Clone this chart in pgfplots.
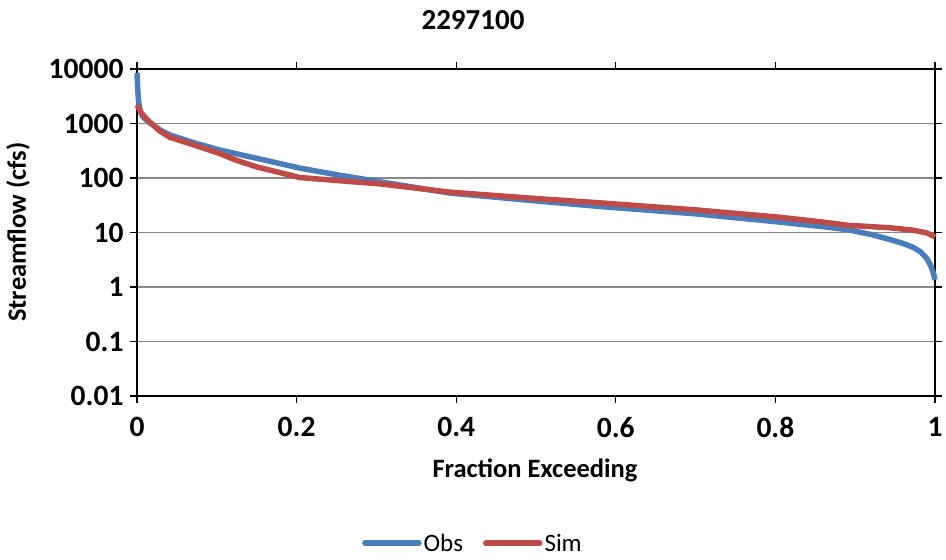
\documentclass[border=0pt]{standalone}
\usepackage{fontspec}
\setmainfont{Carlito}
\usepackage{pgfplots}
\pgfplotsset{compat=1.18}
\definecolor{obsblue}{HTML}{4A7EBB}
\definecolor{simred}{HTML}{BE4B48}
\definecolor{gridgray}{HTML}{868686}
\newcommand\tl[1]{\hbox{\fontsize{29.5}{33}\selectfont\bfseries #1}}
\begin{document}
\begin{tikzpicture}
\useasboundingbox (-137pt,-164pt) rectangle (809pt,396pt);
\begin{axis}[
  at={(0pt,0pt)}, anchor=south west,
  scale only axis, width=798pt, height=327pt,
  xmin=0, xmax=1, ymode=log, ymin=0.01, ymax=10000,
  xtick={0,0.2,0.4,0.6,0.8,1},
  xticklabels={{\tl{0}},{\tl{0.2}},{\tl{0.4}},{\tl{0.6}},{\tl{0.8}},{\tl{1}}},
  ytick={0.01,0.1,1,10,100,1000,10000},
  yticklabels={{\tl{0.01}},{\tl{0.1}},{\tl{1}},{\tl{10}},{\tl{100}},{\tl{1000}},{\tl{10000}}},
  yminorticks=false,
  tick align=outside, major tick length=7pt,
  tick style={black, line width=1.2pt},
  axis line style={black, line width=1.5pt},
  ymajorgrids, grid style={gridgray, line width=1.5pt},
  xticklabel style={yshift=-11pt},
  yticklabel style={xshift=-3pt},
  legend style={at={(0.421,-0.45)}, anchor=center, draw=none, fill=none,
    legend columns=2, font=\fontsize{25}{29}\selectfont,
    /tikz/every even column/.append style={column sep=18pt}},
  legend image code/.code={\draw[#1, line cap=round] (0pt,0pt) -- (54pt,0pt);},
  legend cell align=left,
  clip=false,
]
\addplot[obsblue, line width=5.5pt, line join=round] table {
x y
0.0000 8500
0.0008 4500
0.0020 2500
0.0040 1700
0.0070 1350
0.0120 1150
0.0160 1030
0.0290 760
0.0410 617
0.0700 450
0.1040 325
0.1500 230
0.2040 152
0.2500 115
0.3050 85
0.3920 53
0.5000 38
0.5800 30
0.7000 22
0.8060 15.5
0.8600 12.8
0.8900 11.3
0.9200 9.2
0.9440 7.4
0.9600 6.3
0.9730 5.3
0.9820 4.4
0.9900 3.3
0.9950 2.4
0.9980 1.8
1.0000 1.35
};
\addlegendentry{Obs}
\addplot[simred, line width=5.5pt, line join=round] table {
x y
0.0000 2200
0.0050 1600
0.0100 1300
0.0160 1070
0.0290 720
0.0410 560
0.0700 410
0.1040 280
0.1250 210
0.1500 160
0.2040 102
0.2500 90
0.3050 78
0.3920 55
0.5000 42
0.5800 35
0.7000 26
0.8060 19
0.8600 15.5
0.8900 13.6
0.9440 12.2
0.9730 11
0.9900 9.8
1.0000 8.3
};
\addlegendentry{Sim}
\end{axis}
\node[font=\fontsize{29}{33}\selectfont\bfseries] at (336pt,376pt) {2297100};
\node[font=\fontsize{26.5}{30}\selectfont\bfseries] at (398pt,-74pt) {Fraction Exceeding};
\node[font=\fontsize{26.5}{30}\selectfont\bfseries, rotate=90] at (-119pt,164pt) {Streamflow (cfs)};
\end{tikzpicture}
\end{document}
